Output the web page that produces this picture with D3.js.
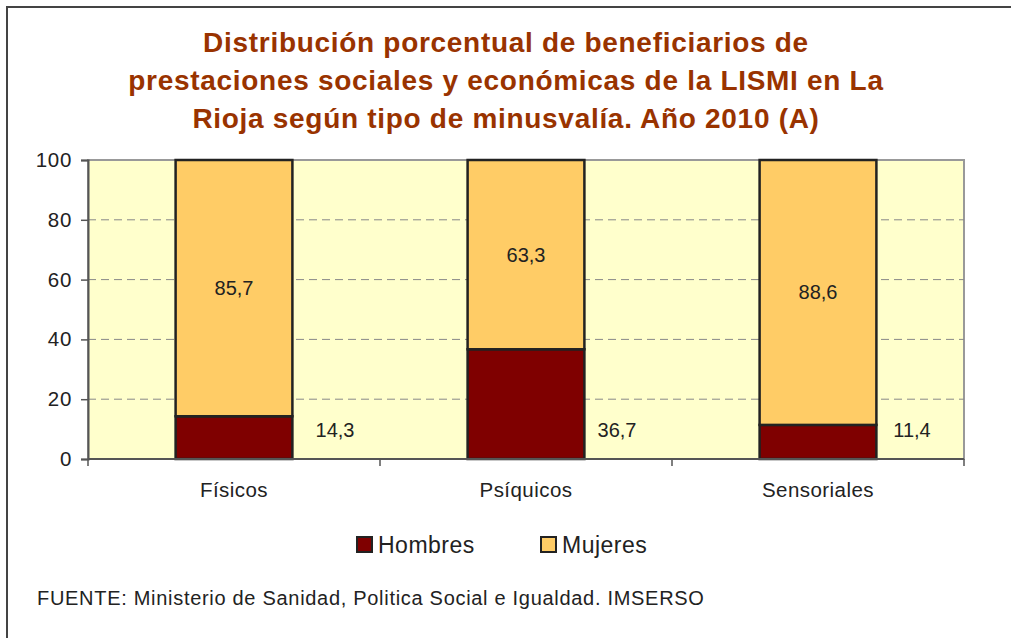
<!DOCTYPE html>
<html><head><meta charset="utf-8">
<script src="https://cdn.jsdelivr.net/npm/d3@7"></script>
<style>html,body{margin:0;padding:0;background:#fff;overflow:hidden}</style>
</head><body>
<script>
const categories = ["Físicos", "Psíquicos", "Sensoriales"];
const hombres = [14.3, 36.7, 11.4];
const mujeres = [85.7, 63.3, 88.6];
const seriesNames = ["Hombres", "Mujeres"];
const seriesColors = ["#7F0000", "#FFCC66"];
const yTicks = [0, 20, 40, 60, 80, 100];
const titleLines = ["Distribución porcentual de beneficiarios de",
  "prestaciones sociales y económicas de la LISMI en La",
  "Rioja según tipo de minusvalía. Año 2010 (A)"];
const sourceText = "FUENTE: Ministerio de Sanidad, Politica Social e Igualdad. IMSERSO";

const W = 1011, H = 638;
const svg = d3.select("body").append("svg").attr("width", W).attr("height", H)
  .style("font-family", "'Liberation Sans', Arial, sans-serif");

// outer frame
svg.append("rect").attr("x", 7).attr("y", 7).attr("width", W + 20).attr("height", H + 20)
  .attr("fill", "#fff").attr("stroke", "#444").attr("stroke-width", 2);

// title
svg.append("g").selectAll("text").data(titleLines).join("text")
  .attr("x", 506).attr("y", (d, i) => 52 + i * 38)
  .attr("text-anchor", "middle").attr("font-weight", "bold").attr("font-size", 28)
  .attr("letter-spacing", 0.7)
  .attr("fill", "#993300").text(d => d);

const m = {l: 88, r: 964, t: 160, b: 459};
const x = d3.scaleBand().domain(categories).range([m.l, m.r]).paddingInner(0.6).paddingOuter(0.3);
const xOuter = d3.scaleBand().domain(categories).range([m.l, m.r]);
const y = d3.scaleLinear().domain([0, 100]).range([m.b, m.t]);

// plot bg
svg.append("rect").attr("x", m.l).attr("y", m.t).attr("width", m.r - m.l).attr("height", m.b - m.t)
  .attr("fill", "#FFFFCC").attr("stroke", "#999").attr("stroke-width", 2);

// gridlines
svg.append("g").selectAll("line").data(yTicks.filter(t => t > 0 && t < 100)).join("line")
  .attr("x1", m.l).attr("x2", m.r).attr("y1", d => y(d)).attr("y2", d => y(d))
  .attr("stroke", "#888").attr("stroke-width", 1).attr("stroke-dasharray", "8,5");

// stacked bars
const stackData = categories.map((c, i) => ({cat: c, Hombres: hombres[i], Mujeres: mujeres[i]}));
const stacked = d3.stack().keys(seriesNames)(stackData);
svg.append("g").selectAll("g").data(stacked).join("g")
  .attr("fill", (d, i) => seriesColors[i])
  .selectAll("rect").data(d => d).join("rect")
  .attr("x", d => x(d.data.cat)).attr("width", x.bandwidth())
  .attr("y", d => y(d[1])).attr("height", d => y(d[0]) - y(d[1]))
  .attr("stroke", "#222").attr("stroke-width", 2.5);

// axes
const yAxis = d3.axisLeft(y).tickValues(yTicks).tickSize(7).tickPadding(9);
const gy = svg.append("g").attr("transform", `translate(${m.l},0)`).call(yAxis);
gy.select(".domain").attr("stroke", "#555").attr("stroke-width", 2);
gy.selectAll(".tick line").attr("stroke", "#555").attr("stroke-width", 1.5);
gy.selectAll("text").attr("font-size", 20.5).attr("fill", "#222").attr("letter-spacing", 0.7)
  .attr("font-family", "'Liberation Sans', Arial, sans-serif");

const gx = svg.append("g").attr("transform", `translate(0,${m.b})`);
gx.append("line").attr("x1", m.l).attr("x2", m.r).attr("y1", 0).attr("y2", 0)
  .attr("stroke", "#555").attr("stroke-width", 2);
const bounds = categories.map(c => xOuter(c)).concat([m.r]);
gx.selectAll("line.tk").data(bounds).join("line").attr("class", "tk")
  .attr("x1", d => d).attr("x2", d => d).attr("y1", 0).attr("y2", 7)
  .attr("stroke", "#555").attr("stroke-width", 1.5);
gx.selectAll("text").data(categories).join("text")
  .attr("x", d => xOuter(d) + xOuter.bandwidth() / 2).attr("y", 38)
  .attr("text-anchor", "middle").attr("font-size", 20.5).attr("letter-spacing", 0.45)
  .attr("fill", "#222").text(d => d);

// data labels
svg.append("g").selectAll("text").data(stackData).join("text")
  .attr("x", d => x(d.cat) + x.bandwidth() / 2).attr("y", d => y(d.Hombres + d.Mujeres / 2) + 7)
  .attr("text-anchor", "middle").attr("font-size", 20).attr("fill", "#222")
  .text(d => d3.format(".1f")(d.Mujeres).replace(".", ","));
const hOffsets = [101, 91, 94];
svg.append("g").selectAll("text").data(stackData).join("text")
  .attr("x", (d, i) => x(d.cat) + x.bandwidth() / 2 + hOffsets[i]).attr("y", y(9.8) + 7)
  .attr("text-anchor", "middle").attr("font-size", 20).attr("fill", "#222")
  .text(d => d3.format(".1f")(d.Hombres).replace(".", ","));

// legend
const legX = [357, 541];
const lg = svg.append("g").selectAll("g").data(seriesNames).join("g")
  .attr("transform", (d, i) => `translate(${legX[i]},537)`);
lg.append("rect").attr("width", 15).attr("height", 15)
  .attr("fill", (d, i) => seriesColors[i]).attr("stroke", "#222").attr("stroke-width", 2);
lg.append("text").attr("x", 21).attr("y", 16).attr("font-size", 23).attr("letter-spacing", 0.5)
  .attr("fill", "#222").text(d => d);

// source
svg.append("text").attr("x", 37).attr("y", 605).attr("font-size", 20).attr("letter-spacing", 0.7)
  .attr("fill", "#222").text(sourceText);
</script>
</body></html>
